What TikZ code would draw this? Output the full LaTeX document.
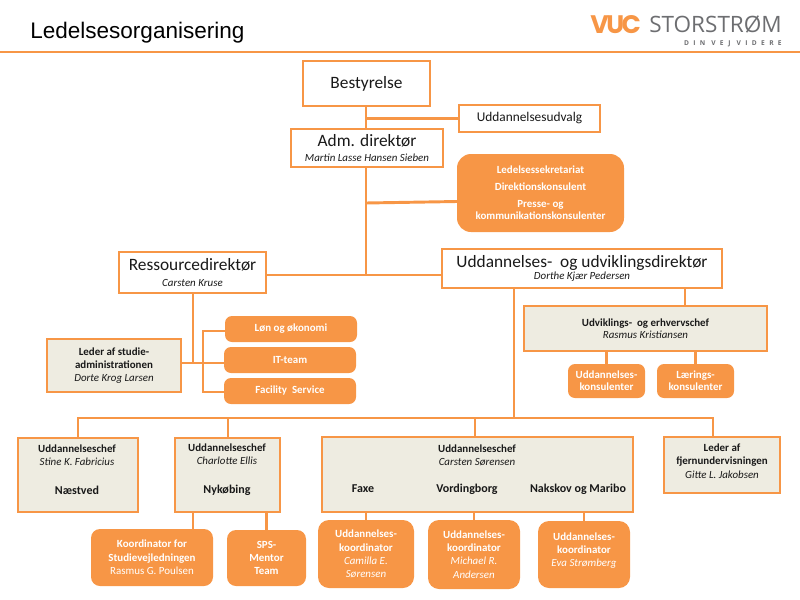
\documentclass[tikz,border=0pt]{standalone}
\usepackage{fontspec}
\setmainfont{Carlito}
\newfontfamily\titlefont{Liberation Sans}
\newfontfamily\logofont[LetterSpace=-10]{Poppins}
\newfontfamily\brandfont{Open Sans}
\newfontfamily\sloganfont[LetterSpace=65]{Open Sans}
\definecolor{vucorange}{HTML}{F79646}
\definecolor{chefgrey}{HTML}{EEECE1}
\definecolor{brandgrey}{HTML}{6D6E71}
\newcommand{\sizebig}{\fontsize{13}{15}\selectfont}
\newcommand{\sizemid}{\fontsize{10}{12}\selectfont}
\newcommand{\sizeplace}{\fontsize{9}{11}\selectfont}
\newcommand{\sizesmall}{\fontsize{8.2}{10}\selectfont}
\tikzset{
    boxsize/.style 2 args={minimum width=#1*0.75pt, minimum height=#2*0.75pt},
    orgbox/.style={draw=vucorange, line width=2.2pt, fill=white, inner sep=0pt, align=center, text=black!90},
    chefbox/.style={orgbox, fill=chefgrey, font=\sizesmall},
    teambox/.style={fill=vucorange, text=white, inner sep=0pt, align=center, rounded corners=#1*0.75pt, font=\sizesmall\bfseries},
    teambox/.default=7,
    boxtext/.style={inner sep=0pt, align=center, text=black!90, font=\sizesmall},
    link/.style={draw=vucorange, line width=2.2pt},
}
\begin{document}
\begin{tikzpicture}[x=0.75pt, y=-0.75pt]
    \useasboundingbox (0,0) rectangle (800,600);

    \node[anchor=west, inner sep=0pt, font=\titlefont\fontsize{16.9}{18}\selectfont] at (30,32.5) (title) {Ledelsesorganisering};
    \coordinate (ruleleft) at (0,52);
    \coordinate (ruleright) at (800,52);
    \draw[vucorange, line width=1.7pt] (ruleleft) -- (ruleright);

    % logo
    \node[anchor=west, inner sep=0pt, text=vucorange, font=\logofont\bfseries\fontsize{19}{19}\selectfont] at (590,25) (logovuc) {VUC};
    \node[anchor=west, inner sep=0pt, text=brandgrey, font=\brandfont\fontsize{16.9}{17}\selectfont] at (649,24.5) (logoname) {STORSTRØM};
    \node[anchor=east, inner sep=0pt, text=brandgrey, font=\sloganfont\bfseries\fontsize{5}{5}\selectfont] at (782,43.5) (logoslogan) {DIN VEJ VIDERE};

    % top of the organisation
    \node[orgbox, boxsize={127}{45}, font=\sizebig] at (366.5,83.5) (best) {Bestyrelse};
    \node[orgbox, boxsize={141}{27}, font=\sizemid] at (529.5,118.5) (udvalg) {Uddannelsesudvalg};
    \node[orgbox, boxsize={152}{38}] at (367,148) (adm) {{\sizebig Adm. direktør}\\[-1pt]{\sizesmall\itshape Martin Lasse Hansen Sieben}};
    \node[teambox=14, boxsize={167}{78}] at (540.5,193) (sekr) {Ledelsessekretariat\\[2.4pt]Direktionskonsulent\\[3pt]Presse- og\\[-1pt]kommunikationskonsulenter};
    \node[orgbox, boxsize={147}{41}] at (192.5,272.5) (res) {{\sizebig Ressourcedirektør}\\[0pt]{\sizesmall\itshape Carsten Kruse}};
    \node[orgbox, boxsize={280}{39}] at (582,268.5) (uud) {{\sizebig Uddannelses-\ \ og udviklingsdirektør}\\[-3pt]{\sizesmall\itshape Dorthe Kjær Pedersen}};

    % ressource side
    \node[chefbox, boxsize={134}{53}] at (114,365.5) (studie) {\textbf{Leder af studie-}\\\textbf{administrationen}\\\textit{Dorte Krog Larsen}};
    \node[teambox, boxsize={132}{26}] at (291,329) (lon) {Løn og økonomi};
    \node[teambox, boxsize={132}{26}] at (290,360) (it) {IT-team};
    \node[teambox, boxsize={132}{26}] at (290,391) (facility) {Facility\ \ Service};

    % udvikling side
    \node[chefbox, boxsize={243}{45}] at (645.5,328.5) (erhverv) {\textbf{Udviklings-\ \ og erhvervschef}\\[-1pt]\textit{Rasmus Kristiansen}};
    \node[teambox, boxsize={77}{34}] at (606.5,381) (konsulent) {Uddannelses-\\[-1pt]konsulenter};
    \node[teambox, boxsize={77}{34}] at (695.5,381) (laering) {Lærings-\\[-1pt]konsulenter};

    % chefs
    \node[chefbox, boxsize={120}{74}] at (78,475) (naestved) {};
    \node[boxtext] at (77,469.5) (naestvedtxt) {\textbf{Uddannelseschef}\\\textit{Stine K. Fabricius}\\[11.5pt]{\sizeplace\bfseries Næstved}};
    \node[chefbox, boxsize={105}{74}] at (227.5,475) (nyk) {};
    \node[boxtext] at (227,469.5) (nyktxt) {\textbf{Uddannelseschef}\\\textit{Charlotte Ellis}\\[11.5pt]{\sizeplace\bfseries Nykøbing}};
    \node[chefbox, boxsize={311}{75}] at (477.5,474.5) (carsten) {};
    \node[boxtext] at (477,455) (carstentxt) {\textbf{Uddannelseschef}\\\textit{Carsten Sørensen}};
    \node[boxtext, font=\sizeplace\bfseries] at (363,489) (faxe) {Faxe};
    \node[boxtext, font=\sizeplace\bfseries] at (467,489) (vording) {Vordingborg};
    \node[boxtext, font=\sizeplace\bfseries] at (578,489) (nakskov) {Nakskov og Maribo};
    \node[chefbox, boxsize={116}{56}] at (722,465) (fjern) {};
    \node[boxtext] at (722,461) (fjerntxt) {\textbf{Leder af}\\\textbf{fjernundervisningen}\\\textit{Gitte L. Jakobsen}};

    % bottom row
    \node[teambox=9, boxsize={122}{57}] at (152,557.5) (koord) {Koordinator for\\Studievejledningen\\{\mdseries Rasmus G. Poulsen}};
    \node[teambox=9, boxsize={79}{56}] at (266.5,558) (sps) {SPS-\\Mentor\\Team};
    \node[teambox=11, boxsize={96}{68}] at (366,554) (camilla) {Uddannelses-\\koordinator\\{\mdseries\itshape Camilla E.}\\{\mdseries\itshape Sørensen}};
    \node[teambox=11, boxsize={92}{69}] at (474,554.5) (michael) {Uddannelses-\\koordinator\\{\mdseries\itshape Michael R.}\\{\mdseries\itshape Andersen}};
    \node[teambox=11, boxsize={92}{67}] at (584,554.5) (eva) {Uddannelses-\\koordinator\\{\mdseries\itshape Eva Strømberg}\\[-2.5pt]\mbox{}};

    % junctions
    \coordinate (udvalgj) at (366,118.5);
    \coordinate (sekrj) at (366,203);
    \coordinate (sekrend) at (457,201.5);
    \coordinate (midj) at (366,275);
    \coordinate (resj) at (193,363);
    \coordinate (teamj) at (203,363);
    \coordinate (lonj) at (203,331);
    \coordinate (facj) at (203,392);
    \coordinate (busleft) at (78,418);
    \coordinate (busright) at (713,418);
    \coordinate (busj) at (514,418);
    \coordinate (nykj) at (228,418);
    \coordinate (carstenj) at (475,418);
    \coordinate (erhvervj) at (685,300);
    \coordinate (koordj) at (193,520);

    \draw[link] (best.south -| udvalgj) -- (adm.north -| udvalgj);
    \draw[link] (udvalgj) -- (udvalg.west);
    \draw[link] (adm.south -| midj) -- (midj);
    \draw[link] (sekrj) -- (sekrend);
    \draw[link] (res.east |- midj) -- (uud.west |- midj);
    \draw[link] (res.south -| resj) -- (resj);
    \draw[link] (studie.east |- resj) -- (teamj);
    \draw[link] (lon.west |- lonj) -- (lonj) -- (facj) -- (facility.west |- facj);
    \draw[link] (teamj) -- (it.west |- teamj);
    \draw[link] (uud.south -| busj) -- (busj);
    \draw[link] (naestved.north -| busleft) -- (busleft) -- (busright) -- (fjern.north -| busright);
    \draw[link] (nykj) -- (nyk.north -| nykj);
    \draw[link] (carstenj) -- (carsten.north -| carstenj);
    \draw[link] (uud.south -| erhvervj) -- (erhverv.north -| erhvervj);
    \draw[link] (erhverv.south -| konsulent) -- (konsulent);
    \draw[link] (erhverv.south -| laering) -- (laering);
    \draw[link] (nyk.south -| koordj) -- (koord.north -| koordj);
    \draw[link] (nyk.south -| sps) -- (sps);
    \draw[link] (carsten.south -| camilla) -- (camilla);
    \draw[link] (carsten.south -| michael) -- (michael);
    \draw[link] (carsten.south -| eva) -- (eva);
\end{tikzpicture}
\end{document}
